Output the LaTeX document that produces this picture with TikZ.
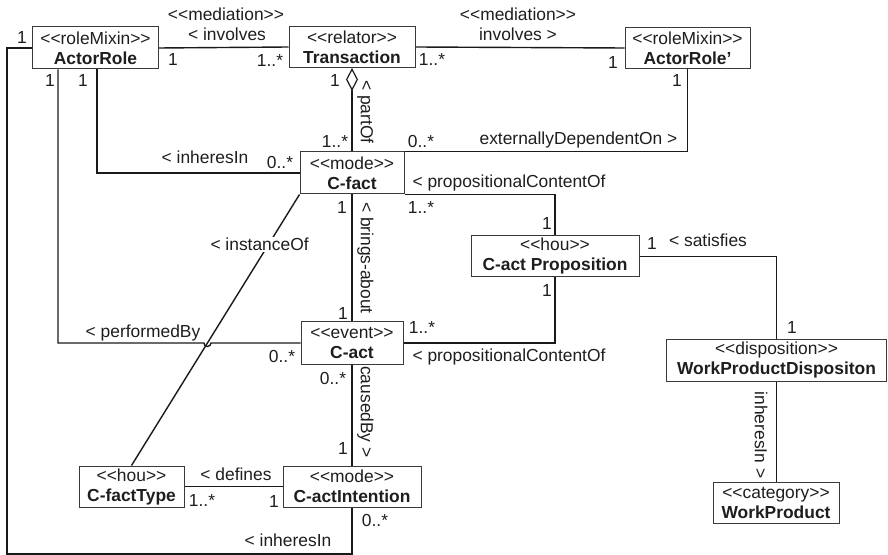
\documentclass[tikz,border=0pt]{standalone}
\usepackage{fontspec}
\setmainfont{Liberation Sans}
\usetikzlibrary{arrows.meta}
\definecolor{linec}{HTML}{1A1A1A}
\definecolor{boxc}{HTML}{3A3A3A}
\definecolor{txt}{HTML}{1E1E1E}
\newcommand\umlst[1]{<{}<#1>{}>}
\begin{document}
\begin{tikzpicture}[x=1bp,y=-1bp,
  every node/.style={font=\fontsize{17.4bp}{20bp}\selectfont, text=txt},
  cls/.style={draw=boxc, line width=1bp, fill=white, align=center, inner sep=0pt},
  assoc/.style={draw=linec, line width=1.4bp},
  lbl/.style={inner sep=1bp, text height=12.5bp, text depth=0pt},
  vlbl/.style={lbl, rotate=-90},
]
\useasboundingbox (0,0) rectangle (888,555);

% classes
\node[cls, minimum width=125bp, minimum height=42bp] (actorRole) at (95.5,48)
  {\umlst{roleMixin}\\\textbf{ActorRole}};
\node[cls, minimum width=126bp, minimum height=41bp] (transaction) at (352,47)
  {\umlst{relator}\\\textbf{Transaction}};
\node[cls, minimum width=125bp, minimum height=41bp] (actorRoleB) at (687.5,48)
  {\umlst{roleMixin}\\\textbf{ActorRole’}};
\node[cls, minimum width=104bp, minimum height=42bp] (cfact) at (352,173)
  {\umlst{mode}\\\textbf{C-fact}};
\node[cls, minimum width=168bp, minimum height=41bp] (cprop) at (555,256.5)
  {\umlst{hou}\\\textbf{C-act Proposition}};
\node[cls, minimum width=102bp, minimum height=42bp] (cact) at (352,343)
  {\umlst{event}\\\textbf{C-act}};
\node[cls, minimum width=220bp, minimum height=42bp] (wpd) at (776.5,360)
  {\umlst{disposition}\\\textbf{WorkProductDispositon}};
\node[cls, minimum width=126bp, minimum height=41bp] (wp) at (776,502.5)
  {\umlst{category}\\\textbf{WorkProduct}};
\node[cls, minimum width=105bp, minimum height=41bp] (cfactType) at (131.5,486.5)
  {\umlst{hou}\\\textbf{C-factType}};
\node[cls, minimum width=138bp, minimum height=41bp] (cactInt) at (352,486.5)
  {\umlst{mode}\\\textbf{C-actIntention}};

% helper points
\coordinate (loopBL) at (7,554);
\path (cfact.south west) -- (cfactType.north) coordinate[pos=0.5478] (hop0);
\coordinate (hop) at (hop0 |- cact.west);

% associations
\draw[assoc] (actorRole.east) -- (transaction.west);
\draw[assoc] (transaction.east) -- (actorRoleB.west);
\draw[assoc, {Diamond[open, length=23bp, width=12bp, line width=1.2bp]}-]
  (transaction.south) -- (cfact.north);
\draw[assoc] (actorRoleB.south) |- (cfact.north east);
\draw[assoc] ([xshift=1.5bp]actorRole.south) |- (cfact.west);
\draw[assoc] (cfact.south east) -| (cprop.north);
\draw[assoc] (cact.east) -| (cprop.south);
\draw[assoc] (cprop.east) -| (wpd.north);
\draw[assoc] (wpd.south) -- (wpd.south |- wp.north);
\draw[assoc] (cfact.south) -- (cact.north);
\draw[assoc] (cact.south) -- (cactInt.north);
\draw[assoc] (cfactType.east) -- (cactInt.west);
\draw[assoc] (actorRole.west) -| (loopBL) -| (cactInt.south);
\draw[assoc] ([xshift=-37.5bp]actorRole.south) |- ([xshift=-3.5bp]hop)
  arc[start angle=180, end angle=360, radius=3.5bp] -- (cact.west);
\draw[assoc] (cfact.south west) -- (cfactType.north)
  node[lbl, pos=0.184, xshift=-9bp, fill=white] (lInstance) {< instanceOf};

% association names
\node[lbl] (lMed1) at (226,14) {\umlst{mediation}};
\node[lbl] (lInv1) at (227,34) {< involves};
\node[lbl] (lMed2) at (518,14) {\umlst{mediation}};
\node[lbl] (lInv2) at (518,34) {involves >};
\node[lbl] (lExt) at (578.5,138) {externallyDependentOn >};
\node[lbl] (lInh1) at (205,157) {< inheresIn};
\node[lbl] (lProp1) at (509,181) {< propositionalContentOf};
\node[lbl] (lSat) at (708,240) {< satisfies};
\node[lbl] (lPerf) at (143,331) {< performedBy};
\node[lbl] (lProp2) at (509,355) {< propositionalContentOf};
\node[lbl] (lDef) at (236,474) {< defines};
\node[lbl] (lInh2) at (288,540) {< inheresIn};
\node[vlbl] (lPart) at (367,112) {< partOf};
\node[vlbl] (lBrings) at (367,258) {< brings-about};
\node[vlbl] (lCaused) at (367,412) {causedBy >};
\node[vlbl] (lInh3) at (761,435) {inheresIn >};

% multiplicities
\node[lbl] (m1) at (22,37) {1};
\node[lbl] (m2) at (173,59) {1};
\node[lbl] (m3) at (270,60) {1..*};
\node[lbl] (m4) at (50,80) {1};
\node[lbl] (m5) at (83,80) {1};
\node[lbl] (m6) at (432,59) {1..*};
\node[lbl] (m7) at (613,62) {1};
\node[lbl] (m8) at (677,80) {1};
\node[lbl] (m9) at (335,80) {1};
\node[lbl] (m10) at (335,141) {1..*};
\node[lbl] (m11) at (421,141) {0..*};
\node[lbl] (m12) at (280,162) {0..*};
\node[lbl] (m13) at (342,207) {1};
\node[lbl] (m14) at (421,207) {1..*};
\node[lbl] (m15) at (547,223) {1};
\node[lbl] (m16) at (652,243) {1};
\node[lbl] (m17) at (547,290) {1};
\node[lbl] (m18) at (422,327) {1..*};
\node[lbl] (m19) at (792,327) {1};
\node[lbl] (m20) at (282,356) {0..*};
\node[lbl] (m21) at (343,313) {1};
\node[lbl] (m22) at (333,378) {0..*};
\node[lbl] (m23) at (343,448) {1};
\node[lbl] (m24) at (202,500) {1..*};
\node[lbl] (m25) at (274,501) {1};
\node[lbl] (m26) at (375,520) {0..*};
\end{tikzpicture}
\end{document}
